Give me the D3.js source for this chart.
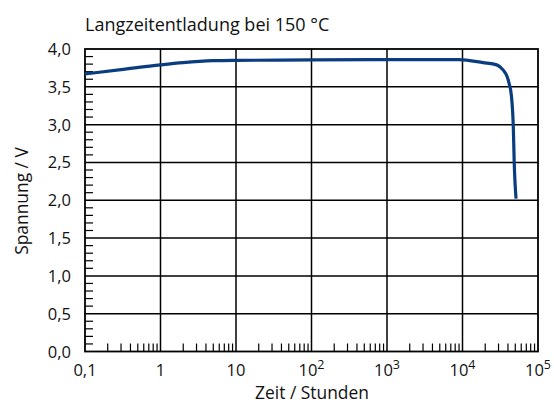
<!DOCTYPE html>
<html><head><meta charset="utf-8">
<script src="https://cdn.jsdelivr.net/npm/d3@7"></script>
<style>body{margin:0;background:#fff}text{font-family:"Open Sans",sans-serif;fill:#111}</style>
</head><body>
<svg id="c" width="554" height="403"></svg>
<script>
const hours   = [0.1, 0.3, 1, 2, 5, 10, 100, 1000, 9000, 18700, 28400, 34700, 39200, 42500, 43400, 47000, 48400, 51200];
const voltage = [3.67, 3.727, 3.79, 3.82, 3.845, 3.85, 3.855, 3.86, 3.86, 3.82, 3.79, 3.72, 3.63, 3.5, 3.46, 3.0, 2.5, 2.02];
const xTickValues = [0.1, 1, 10, 100, 1000, 10000, 100000];
const xTickLabels = ["0,1", "1", "10", "10", "10", "10", "10"];
const xTickSups   = ["", "", "", "2", "3", "4", "5"];
const yTickValues = [0, 0.5, 1, 1.5, 2, 2.5, 3, 3.5, 4];
const yTickLabels = ["0,0", "0,5", "1,0", "1,5", "2,0", "2,5", "3,0", "3,5", "4,0"];
const title = "Langzeitentladung bei 150 °C";
const xTitle = "Zeit / Stunden";
const yTitle = "Spannung / V";

const svg = d3.select("#c");
const L = 85, R = 538, T = 49, B = 351.5;
const x = d3.scaleLog().domain([0.1, 1e5]).range([L, R]);
const y = d3.scaleLinear().domain([0, 4]).range([B, T]);

// grid
const g = svg.append("g");
xTickValues.slice(1, -1).forEach(v => g.append("line").attr("x1", x(v)).attr("x2", x(v)).attr("y1", T).attr("y2", B).attr("stroke", "#000").attr("stroke-width", 1.5));
yTickValues.slice(1, -1).forEach(v => g.append("line").attr("x1", L).attr("x2", R).attr("y1", y(v)).attr("y2", y(v)).attr("stroke", "#000").attr("stroke-width", 1.5));
// minor ticks
const minorY = d3.range(0, 40).map(i => i / 10).filter(v => Math.round(v * 10) % 5 !== 0);
minorY.forEach(v => g.append("line").attr("x1", L).attr("x2", L + 8).attr("y1", y(v)).attr("y2", y(v)).attr("stroke", "#000").attr("stroke-width", 1.2));
const minorX = [];
for (let d = 0.1; d < 1e5; d *= 10) for (let k = 2; k <= 9; k++) minorX.push(d * k);
minorX.forEach(v => g.append("line").attr("x1", x(v)).attr("x2", x(v)).attr("y1", B).attr("y2", B - 8).attr("stroke", "#000").attr("stroke-width", 1.2));
// frame
g.append("rect").attr("x", L).attr("y", T).attr("width", R - L).attr("height", B - T).attr("fill", "none").attr("stroke", "#000").attr("stroke-width", 1.8);

// curve
const line = d3.line().x((d, i) => x(hours[i])).y(d => y(d)).curve(d3.curveMonotoneX);
svg.append("path").attr("d", line(voltage)).attr("fill", "none").attr("stroke", "#0a3d80").attr("stroke-width", 3.2);

// labels
xTickValues.forEach((v, i) => {
  const t = svg.append("text").attr("x", x(v)).attr("y", 376).attr("text-anchor", "middle").attr("font-size", 16.5);
  t.append("tspan").text(xTickLabels[i]);
  if (xTickSups[i]) t.append("tspan").attr("dy", -7).attr("font-size", 12.5).text(xTickSups[i]);
});
yTickValues.forEach((v, i) => svg.append("text").attr("x", 71).attr("y", y(v) + 6).attr("text-anchor", "end").attr("font-size", 16.5).text(yTickLabels[i]));
svg.append("text").attr("x", 85).attr("y", 31).attr("font-size", 18).text(title);
svg.append("text").attr("x", 312).attr("y", 399).attr("text-anchor", "middle").attr("font-size", 17.4).text(xTitle);
svg.append("text").attr("transform", "translate(28,201) rotate(-90)").attr("text-anchor", "middle").attr("font-size", 17.4).text(yTitle);
</script>
</body></html>
